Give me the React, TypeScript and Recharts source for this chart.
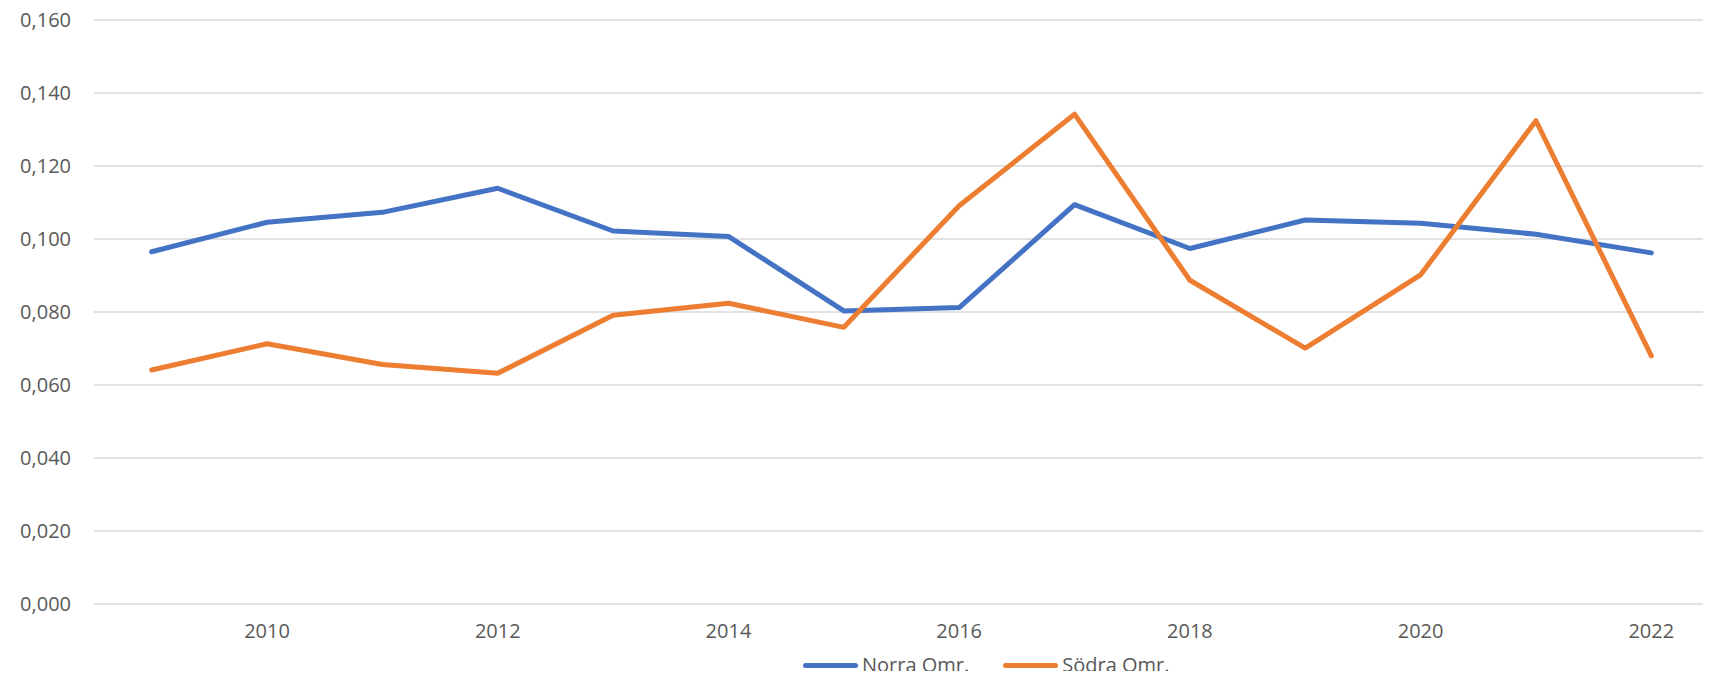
import { LineChart, Line, XAxis, YAxis, CartesianGrid, Legend } from "recharts";

const years = [2009, 2010, 2011, 2012, 2013, 2014, 2015, 2016, 2017, 2018, 2019, 2020, 2021, 2022];
const norra = [0.0965, 0.1046, 0.1073, 0.1139, 0.1022, 0.1007, 0.0803, 0.0812, 0.1094, 0.0974, 0.1052, 0.1043, 0.1013, 0.0962];
const sodra = [0.0641, 0.0713, 0.0656, 0.0632, 0.0791, 0.0824, 0.0758, 0.1091, 0.1342, 0.0887, 0.0701, 0.0902, 0.1324, 0.068];
const yTicks = [0, 0.02, 0.04, 0.06, 0.08, 0.1, 0.12, 0.14, 0.16];
const xTicks = [2010, 2012, 2014, 2016, 2018, 2020, 2022];

const data = years.map((year, i) => ({ year, norra: norra[i], sodra: sodra[i] }));

const FONT = "'Open Sans', sans-serif";
const TEXT = "#595959";

function LegendContent({ payload }: any) {
  return (
    <div style={{ display: "flex", gap: 34, fontFamily: FONT, fontSize: 20, color: TEXT, lineHeight: "28px", height: 28 }}>
      {(payload || []).map((p: any) => (
        <div key={p.value} style={{ display: "flex", alignItems: "center" }}>
          <div style={{ width: 55, height: 5, borderRadius: 3, background: p.color, marginRight: 4 }} />
          <span>{p.value}</span>
        </div>
      ))}
    </div>
  );
}

export default function App() {
  return (
    <div style={{ margin: -8 }}>
      <LineChart width={1711} height={679} data={data} margin={{ top: 20, right: 2, bottom: 17, left: 0 }}>
        <CartesianGrid vertical={false} stroke="#D9D9D9" strokeWidth={1.5} />
        <XAxis
          dataKey="year"
          type="number"
          domain={[2008.5, 2022.5]}
          ticks={xTicks}
          axisLine={false}
          tickLine={false}
          tickSize={0}
          tickMargin={20}
          tick={{ fontSize: 20, fill: TEXT, fontFamily: FONT }}
        />
        <YAxis
          domain={[0, 0.16]}
          ticks={yTicks}
          width={94}
          axisLine={false}
          tickLine={false}
          tickSize={0}
          tickMargin={23}
          tickFormatter={(v: number) => v.toFixed(3).replace(".", ",")}
          tick={{ fontSize: 20, fill: TEXT, fontFamily: FONT }}
        />
        <Legend
          content={<LegendContent />}
          wrapperStyle={{ left: 803, top: 651, width: 420, height: 28 }}
        />
        <Line dataKey="norra" name="Norra Omr." stroke="#4472C4" strokeWidth={5} dot={false} isAnimationActive={false} strokeLinejoin="round" strokeLinecap="round" />
        <Line dataKey="sodra" name="Södra Omr." stroke="#ED7D31" strokeWidth={5} dot={false} isAnimationActive={false} strokeLinejoin="round" strokeLinecap="round" />
      </LineChart>
    </div>
  );
}
